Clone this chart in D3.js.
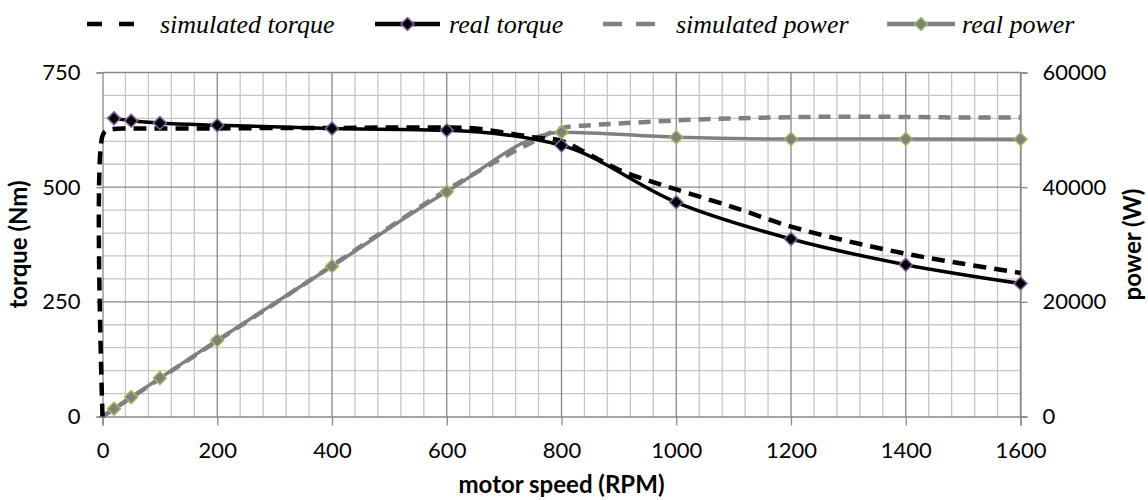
<!DOCTYPE html>
<html>
<head>
<meta charset="utf-8">
<title>torque / power</title>
<script src="https://d3js.org/d3.v7.min.js"></script>
<style>
  body { margin: 0; background: #fff; }
</style>
</head>
<body>
<div id="chart"></div>
<script>
"use strict"

// ---- data ----
var speedTicks = [0, 200, 400, 600, 800, 1000, 1200, 1400, 1600];
var torqueTicks = [0, 250, 500, 750];
var powerTicks = [0, 20000, 40000, 60000];

// measured points
var realSpeed  = [20, 50, 100, 200, 400, 600, 800, 1000, 1200, 1400, 1600];
var realTorque = [650, 645, 640, 635, 628, 624, 591, 467, 387, 331, 290];
var realPower  = [1360, 3380, 6700, 13300, 26200, 39200, 49600, 48700, 48400, 48400, 48350];

// simulation
var simSpeed  = [0, 0, 8, 20, 40, 100, 200, 300, 400, 500, 600, 650, 700, 750, 800, 850, 900, 950, 1000, 1100, 1200, 1300, 1400, 1500, 1600];
var simTorque = [0, 612, 624, 627, 628, 628, 628, 629, 629, 630, 630, 628, 619, 609, 601, 570, 538, 515, 495, 456, 414, 382, 355, 333, 313];
var simPowSpeed = [0, 100, 200, 300, 400, 500, 600, 700, 750, 800, 850, 900, 1000, 1100, 1200, 1300, 1400, 1500, 1600];
var simPower    = [0, 6600, 13200, 19700, 26300, 33000, 39500, 45300, 47900, 50300, 50800, 51100, 51650, 52000, 52200, 52300, 52250, 52150, 52150];

var legendNames = ["simulated torque", "real torque", "simulated power", "real power"];

// ---- layout ----
var W = 1148, H = 500;
var margin = {top: 72.5, right: 127.5, bottom: 83.5, left: 102.5};
var w = W - margin.left - margin.right, h = H - margin.top - margin.bottom;

var svg = d3.select("#chart").append("svg").attr("width", W).attr("height", H);
var g = svg.append("g").attr("transform", "translate(" + margin.left + "," + margin.top + ")");

var x = d3.scaleLinear().domain([0, 1600]).range([0, w]);
var yT = d3.scaleLinear().domain([0, 750]).range([h, 0]);
var yP = d3.scaleLinear().domain([0, 60000]).range([h, 0]);

var minorC = "#c6c6c6", majorC = "#888888";

// grid
g.append("g").selectAll("line").data(d3.range(40, 1600, 40).filter(v => v % 200 != 0))
  .enter().append("line")
  .attr("x1", d => x(d)).attr("x2", d => x(d)).attr("y1", 0).attr("y2", h)
  .attr("stroke", minorC).attr("stroke-width", 1.3);
g.append("g").selectAll("line").data(d3.range(50, 750, 50).filter(v => v % 250 != 0))
  .enter().append("line")
  .attr("x1", 0).attr("x2", w).attr("y1", d => yT(d)).attr("y2", d => yT(d))
  .attr("stroke", minorC).attr("stroke-width", 1.3);
g.append("g").selectAll("line").data(speedTicks.slice(1))
  .enter().append("line")
  .attr("x1", d => x(d)).attr("x2", d => x(d)).attr("y1", 0).attr("y2", h)
  .attr("stroke", majorC).attr("stroke-width", 1.3);
g.append("g").selectAll("line").data(torqueTicks.slice(1))
  .enter().append("line")
  .attr("x1", 0).attr("x2", w).attr("y1", d => yT(d)).attr("y2", d => yT(d))
  .attr("stroke", majorC).attr("stroke-width", 1.3);

// axes
function styleAxis(sel) {
  sel.select(".domain").attr("stroke", majorC).attr("stroke-width", 1.3);
  sel.selectAll(".tick line").attr("stroke", majorC).attr("stroke-width", 1.3);
  sel.selectAll(".tick text").attr("font-family", "Lato, sans-serif").attr("font-size", 22).attr("fill", "#000");
}
var fmt = d3.format("d");
g.append("g").attr("transform", "translate(0," + h + ")")
  .call(d3.axisBottom(x).tickValues(speedTicks).tickFormat(fmt).tickSizeOuter(0).tickSize(9).tickPadding(17))
  .call(styleAxis);
g.append("g")
  .call(d3.axisLeft(yT).tickValues(torqueTicks).tickFormat(fmt).tickSizeOuter(0).tickSize(6).tickPadding(16))
  .call(styleAxis);
g.append("g").attr("transform", "translate(" + w + ",0)")
  .call(d3.axisRight(yP).tickValues(powerTicks).tickFormat(fmt).tickSizeOuter(0).tickSize(7).tickPadding(15))
  .call(styleAxis);

// axis titles
function title(sel) {
  sel.attr("font-family", "Lato, sans-serif").attr("font-weight", "bold").attr("font-size", 24)
    .attr("text-anchor", "middle");
}
svg.append("text").call(title)
  .attr("x", margin.left + w / 2).attr("y", 493).text("motor speed (RPM)");
svg.append("text").call(title).attr("dy", "0.35em")
  .attr("transform", "translate(19," + (margin.top + h / 2) + ") rotate(-90)").text("torque (Nm)");
svg.append("text").call(title).attr("dy", "0.35em")
  .attr("transform", "translate(1133," + (margin.top + h / 2) + ") rotate(-90)").text("power (W)");

// lines
var simT = simSpeed.map((s, i) => [s, simTorque[i]]);
var simP = simPowSpeed.map((s, i) => [s, simPower[i]]);
var realT = realSpeed.map((s, i) => [s, realTorque[i]]);
var realP = realSpeed.map((s, i) => [s, realPower[i]]);

var simCurve = d3.curveCatmullRom.alpha(0.5);
var lineT = d3.line().x(d => x(d[0])).y(d => yT(d[1]));
var lineP = d3.line().x(d => x(d[0])).y(d => yP(d[1]));

var diamond = "M0,-6.5L6.5,0L0,6.5L-6.5,0Z";

g.append("path").datum(simP).attr("d", lineP.curve(simCurve)).attr("fill", "none")
  .attr("stroke", "#808080").attr("stroke-width", 4.5).attr("stroke-dasharray", "12,8");
g.append("path").datum(realP).attr("d", lineP.curve(d3.curveMonotoneX)).attr("fill", "none")
  .attr("stroke", "#808080").attr("stroke-width", 3.5);
g.append("path").datum(simT).attr("d", lineT.curve(simCurve)).attr("fill", "none")
  .attr("stroke", "#000").attr("stroke-width", 4.5).attr("stroke-dasharray", "13,8");
g.append("path").datum(realT).attr("d", lineT.curve(d3.curveMonotoneX)).attr("fill", "none")
  .attr("stroke", "#000").attr("stroke-width", 3.5);

g.selectAll(".mp").data(realP).enter().append("path").attr("class", "mp")
  .attr("d", diamond).attr("transform", d => "translate(" + x(d[0]) + "," + yP(d[1]) + ")")
  .attr("fill", "#808080").attr("stroke", "#9bbb59").attr("stroke-width", 1.5);
g.selectAll(".mt").data(realT).enter().append("path").attr("class", "mt")
  .attr("d", diamond).attr("transform", d => "translate(" + x(d[0]) + "," + yT(d[1]) + ")")
  .attr("fill", "#000").attr("stroke", "#8064a2").attr("stroke-width", 1.5);

// legend
var legX = [87, 375, 603, 887];     // start of the line sample
var legLen = [48, 65, 52, 68];
var legText = [160, 449, 676, 962]; // start of the label
var legStyle = [
  {c: "#000", dash: "15,17", mk: null},
  {c: "#000", dash: null, mk: "#8064a2"},
  {c: "#808080", dash: "19,14", mk: null},
  {c: "#808080", dash: null, mk: "#9bbb59"}
];
var leg = svg.append("g").selectAll("g").data(legendNames).enter().append("g");
leg.append("line")
  .attr("x1", (d, i) => legX[i]).attr("x2", (d, i) => legX[i] + legLen[i])
  .attr("y1", 24).attr("y2", 24)
  .attr("stroke", (d, i) => legStyle[i].c).attr("stroke-width", 4.5)
  .attr("stroke-dasharray", (d, i) => legStyle[i].dash);
leg.filter((d, i) => legStyle[i].mk).append("path").attr("d", diamond)
  .attr("transform", d => { var i = legendNames.indexOf(d); return "translate(" + (legX[i] + legLen[i] / 2) + ",24)"; })
  .attr("fill", d => legStyle[legendNames.indexOf(d)].c)
  .attr("stroke", d => legStyle[legendNames.indexOf(d)].mk).attr("stroke-width", 1.5);
leg.append("text")
  .attr("font-family", "'Liberation Serif', serif").attr("font-style", "italic").attr("font-size", 26)
  .attr("x", (d, i) => legText[i]).attr("y", 33).text(d => d);
</script>
</body>
</html>
